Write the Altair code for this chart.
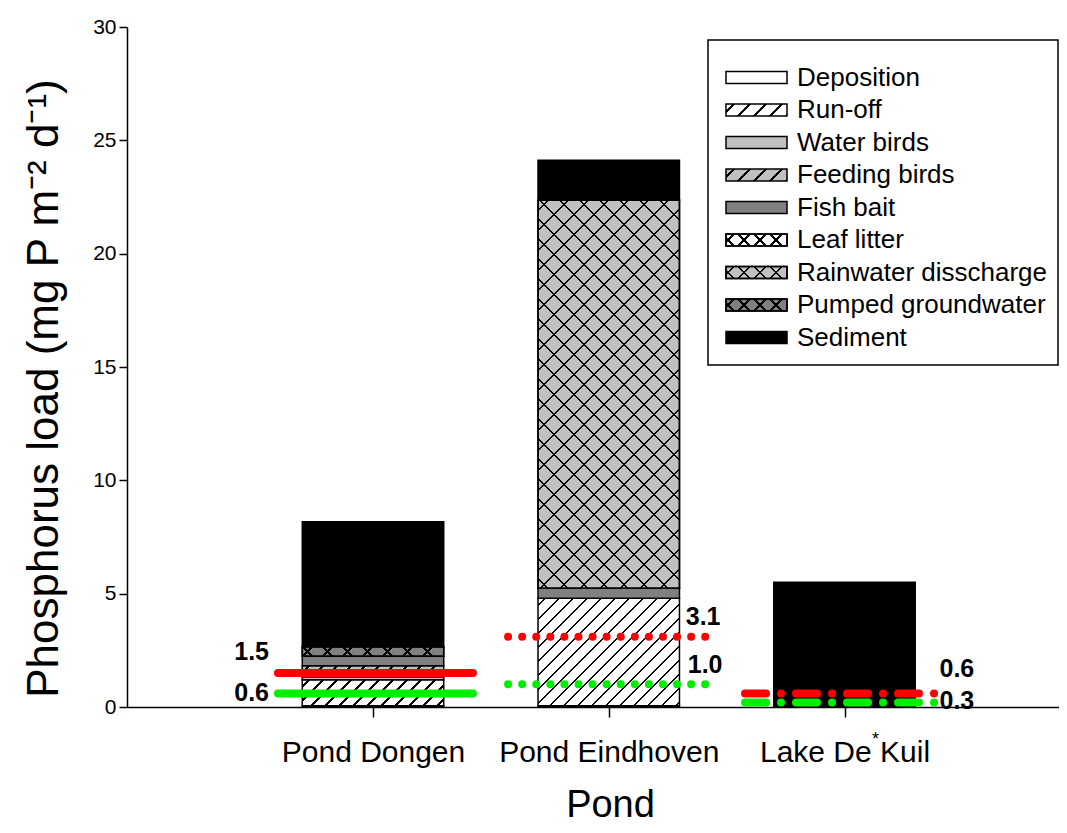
import json
import altair as alt
import pandas as pd

# ---------------- data ----------------
PONDS = ["Pond Dongen", "Pond Eindhoven", "Lake De Kuil"]
SOURCES = ["Deposition", "Run-off", "Water birds", "Feeding birds", "Fish bait",
           "Leaf litter", "Rainwater disscharge", "Pumped groundwater", "Sediment"]
LOAD_DONGEN = [0.05, 1.15, 0.13, 0.49, 0.42, 0.0, 0.0, 0.42, 5.51]
LOAD_EINDHOVEN = [0.05, 4.75, 0.0, 0.0, 0.44, 0.0, 17.12, 0.0, 1.76]
LOAD_KUIL = [0.0, 0.0, 0.0, 0.0, 0.0, 0.0, 0.0, 0.0, 5.5]
RED_LIMIT = [1.5, 3.1, 0.6]
GREEN_LIMIT = [0.6, 1.0, 0.2]
RED_TEXT = ["1.5", "3.1", "0.6"]
GREEN_TEXT = ["0.6", "1.0", "0.3"]
Y_TICKS = [0, 5, 10, 15, 20, 25, 30]

# ---------------- style ----------------
W, H = 932, 680
Y_MAX = 30
STEP = 235.75                 # px between pond centres
FIRST = 246.0                 # px from y axis to first pond centre
X_MIN = -FIRST / STEP
X_MAX = X_MIN + W / STEP
BAR_HALF = 0.3
PX_Y = H / Y_MAX
BAR_W_PX = 2 * BAR_HALF * STEP
FONT = "Liberation Sans"
LIGHT, DARK = "#c0c0c0", "#808080"
CLEAR = "rgba(0,0,0,0)"

FILL = {
    "Deposition": ("white", None),
    "Run-off": ("white", "fwd"),
    "Water birds": (LIGHT, None),
    "Feeding birds": (LIGHT, "fwd"),
    "Fish bait": (DARK, None),
    "Leaf litter": ("white", "cross"),
    "Rainwater disscharge": (LIGHT, "cross"),
    "Pumped groundwater": (DARK, "cross"),
    "Sediment": ("black", None),
}

LINE_SPAN = [(-0.403, 0.424), (-0.427, 0.414), (-0.422, 0.380)]
LINE_DASH = [None, [0.01, 14.07], [21, 15, 0.01, 15]]
# (dx, dy, align) for red / green labels of each pond
RED_LAB_POS = [(-104, -21, "right"), (77, -20, "left"), (95, -24, "left")]
GREEN_LAB_POS = [(-104, 0, "right"), (79, -19, "left"), (95, -1, "left")]


def hatch(w, h, bg, direction, period, half=1.1, fg="black"):
    L = w + h
    k = L / (w * w + h * h)
    if direction == "fwd":
        x1, y1, x2, y2 = 0, 0, k * w, k * h
    else:
        x1, y1, x2, y2 = 0, 1, k * w, 1 - k * h
    stops = [{"offset": 0, "color": bg}]
    s = period / 2.0
    while s - half < L:
        a = round(max(0.0, (s - half) / L), 5)
        b = round(min(1.0, (s + half) / L), 5)
        stops += [{"offset": a, "color": bg}, {"offset": a, "color": fg},
                  {"offset": b, "color": fg}, {"offset": b, "color": bg}]
        s += period
    stops.append({"offset": 1, "color": bg})
    return {"gradient": "linear", "x1": x1, "y1": y1, "x2": x2, "y2": y2, "stops": stops}


def fills(source, w, h, period_fwd, period_cross):
    bg, kind = FILL[source]
    if kind is None:
        return [bg]
    if kind == "fwd":
        return [hatch(w, h, bg, "fwd", period_fwd)]
    return [hatch(w, h, bg, "fwd", period_cross), hatch(w, h, CLEAR, "back", period_cross)]


# ---------------- tables ----------------
rows = []
for pi, loads in enumerate([LOAD_DONGEN, LOAD_EINDHOVEN, LOAD_KUIL]):
    cum = 0.0
    for si, v in enumerate(loads):
        if v > 0:
            rows.append(dict(sid=len(rows), pond=pi, source=SOURCES[si], lo=cum, hi=cum + v))
            cum += v
seg = pd.DataFrame(rows)

thr = pd.DataFrame(
    [dict(pond=i, kind="red", value=RED_LIMIT[i], label=RED_TEXT[i]) for i in range(3)]
    + [dict(pond=i, kind="green", value=GREEN_LIMIT[i], label=GREEN_TEXT[i]) for i in range(3)]
)
leg = pd.DataFrame(dict(row=list(range(len(SOURCES))), source=SOURCES))

# ---------------- scales / axes ----------------
XS = alt.Scale(domain=[X_MIN, X_MAX], nice=False, zero=False)
YS = alt.Scale(domain=[0, Y_MAX], nice=False, zero=True)
label_expr = json.dumps(PONDS) + "[datum.value]"
XAX = alt.Axis(values=[0, 1, 2], labelExpr=label_expr, title="Pond", grid=False,
               tickSize=10, labelPadding=20, labelFontSize=30, labelFont=FONT,
               labelLimit=0, labelOverlap=False,
               labelColor="black", tickColor="black", domainColor="black",
               domainWidth=1.5, tickWidth=1.5,
               titleFontSize=38, titleFont=FONT, titleFontWeight="normal",
               titleColor="black", titleX=483, titleY=109, titleBaseline="alphabetic",
               titleAlign="center")
YAX = alt.Axis(values=Y_TICKS, title="Phosphorus load (mg P m\u207b\u00b2 d\u207b\u00b9)",
               grid=False, tickSize=8, labelPadding=3, labelFontSize=21, labelFont=FONT,
               labelColor="black", tickColor="black", domainColor="black",
               domainWidth=1.5, tickWidth=1.5, titleLimit=0,
               titleFontSize=44, titleFont=FONT, titleFontWeight="normal",
               titleColor="black", titleAngle=270, titleX=-83, titleY=361,
               titleAlign="center", titleBaseline="middle")


def X(f):
    return alt.X(f, type="quantitative", scale=XS, axis=XAX)


def Y(f):
    return alt.Y(f, type="quantitative", scale=YS, axis=YAX)


main_layers = []
# stacked segments
for r in seg.itertuples():
    h_px = (r.hi - r.lo) * PX_Y
    for f in fills(r.source, BAR_W_PX, h_px, 14, 20):
        main_layers.append(
            alt.Chart(seg).transform_filter(alt.datum.sid == r.sid)
            .transform_calculate(xa=f"datum.pond - {BAR_HALF}", xb=f"datum.pond + {BAR_HALF}")
            .mark_rect(fill=f, stroke="black", strokeWidth=1.5)
            .encode(x=X("xa"), x2=alt.X2("xb"), y=Y("lo"), y2=alt.Y2("hi"))
        )

# limit lines
for i in range(3):
    a, b = LINE_SPAN[i]
    for kind, col in [("green", "#00ee00"), ("red", "#ff0000")]:
        props = dict(color=col, strokeWidth=8, strokeCap="round")
        if LINE_DASH[i] is not None:
            props["strokeDash"] = LINE_DASH[i]
        main_layers.append(
            alt.Chart(thr).transform_filter((alt.datum.pond == i) & (alt.datum.kind == kind))
            .transform_calculate(xa=f"datum.pond + ({a})", xb=f"datum.pond + ({b})")
            .mark_rule(**props)
            .encode(x=X("xa"), x2=alt.X2("xb"), y=Y("value"))
        )

# limit labels
for i in range(3):
    for kind, pos in [("red", RED_LAB_POS[i]), ("green", GREEN_LAB_POS[i])]:
        dx, dy, al = pos
        main_layers.append(
            alt.Chart(thr).transform_filter((alt.datum.pond == i) & (alt.datum.kind == kind))
            .mark_text(font=FONT, fontSize=25, fontWeight="bold", color="black",
                       align=al, baseline="middle", dx=dx, dy=dy)
            .encode(x=X("pond"), y=Y("value"), text="label:N")
        )

# stray footnote asterisk on the Lake De Kuil label
main_layers.append(
    alt.Chart(thr).transform_filter((alt.datum.pond == 2) & (alt.datum.kind == "red"))
    .transform_calculate(zero="0", star="'*'")
    .mark_text(font=FONT, fontSize=18, color="black", align="center", baseline="middle",
               dx=31, dy=33)
    .encode(x=X("pond"), y=Y("zero:Q"), text="star:N")
)

main = alt.layer(*main_layers)

# ---------------- legend ----------------
LYS = alt.Scale(domain=[0, len(SOURCES) - 1], range=[50.5, 310.5], nice=False, zero=False)
leg_layers = [
    alt.Chart(leg).transform_filter(alt.datum.row == 0)
    .mark_rect(fill="white", stroke="black", strokeWidth=1.5)
    .encode(x=alt.value(581), x2=alt.value(931), y=alt.value(13), y2=alt.value(338))
]
for i, s in enumerate(SOURCES):
    for f in fills(s, 61, 12, 16, 16):
        leg_layers.append(
            alt.Chart(leg).transform_filter(alt.datum.row == i)
            .transform_calculate(ya="datum.row - 0.185", yb="datum.row + 0.185")
            .mark_rect(fill=f, stroke="black", strokeWidth=1.5)
            .encode(x=alt.value(599), x2=alt.value(660),
                    y=alt.Y("ya:Q", scale=LYS, axis=None), y2=alt.Y2("yb"))
        )
leg_layers.append(
    alt.Chart(leg).mark_text(font=FONT, fontSize=26, color="black", align="left",
                             baseline="middle")
    .encode(x=alt.value(670), y=alt.Y("row:Q", scale=LYS, axis=None), text="source:N")
)
legend = alt.layer(*leg_layers)

chart = (
    alt.layer(main, legend)
    .resolve_scale(y="independent")
    .properties(width=W, height=H, background="white",
                autosize=alt.AutoSizeParams(type="none"),
                padding={"left": 119, "top": 19, "right": 0, "bottom": 118})
    .configure_view(stroke=None)
)

chart.save("out.html", embed_options={"renderer": "svg", "actions": False})
